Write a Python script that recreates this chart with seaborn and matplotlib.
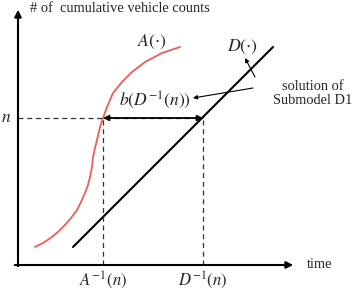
import numpy as np
import pandas as pd
import matplotlib
matplotlib.use("Agg")
import matplotlib.pyplot as plt
import seaborn as sns

# ---------------------------------------------------------
# data (arbitrary units)
# ---------------------------------------------------------
arr_t = [17, 25, 34, 41, 47, 53, 59, 63, 67, 70, 72, 74, 75, 77, 79, 82, 85, 89, 95, 104, 114, 127, 144, 162]
arr_n = [18, 22, 28, 34, 40, 47, 55, 63, 72, 80, 88, 98, 108, 117, 125, 138, 147, 158, 172, 183, 193, 203, 212, 218]
dep_t = [55, 255]
dep_n = [18, 218]

n_level = 147
a_inv = 85
d_inv = 185

sns.set_theme(style="white")
plt.rcParams["font.family"] = ["Liberation Serif", "DejaVu Serif"]
plt.rcParams["mathtext.fontset"] = "stix"

fig = plt.figure(figsize=(3.55, 2.92), dpi=100)
ax = fig.add_axes([0, 0, 1, 1])
ax.set_xlim(-18, 337)
ax.set_ylim(-27, 265)
ax.axis("off")

# curves
arr = pd.DataFrame({"t": arr_t, "n": arr_n})
dep = pd.DataFrame({"t": dep_t, "n": dep_n})
sns.lineplot(data=arr, x="t", y="n", ax=ax, color="#ee5c5c", lw=1.3, sort=False)
sns.lineplot(data=dep, x="t", y="n", ax=ax, color="black", lw=1.5, sort=False)

# dashed guides
dash = dict(color="#333333", lw=0.9, ls=(0, (4, 3)))
ax.plot([0, d_inv], [n_level, n_level], **dash)
ax.plot([a_inv, a_inv], [0, n_level], **dash)
ax.plot([d_inv, d_inv], [0, n_level], **dash)

# axes with arrows
ax.annotate("", xy=(0, 258), xytext=(0, -4),
            arrowprops=dict(arrowstyle="-|>", color="black", lw=1.5, mutation_scale=10))
ax.annotate("", xy=(278, 0), xytext=(-6, 0),
            arrowprops=dict(arrowstyle="-|>", color="black", lw=1.5, mutation_scale=10))

# horizontal double arrow b(D^-1(n))
ax.annotate("", xy=(a_inv, n_level), xytext=(d_inv, n_level),
            arrowprops=dict(arrowstyle="<|-|>", color="black", lw=1.3, mutation_scale=8,
                            shrinkA=0, shrinkB=0))

# pointer arrows from "solution of Submodel D1"
ax.annotate("", xy=(227, 207), xytext=(237, 188),
            arrowprops=dict(arrowstyle="-|>", color="black", lw=0.8, mutation_scale=6,
                            shrinkA=0, shrinkB=0))
ax.annotate("", xy=(175, 167), xytext=(235, 177),
            arrowprops=dict(arrowstyle="-|>", color="black", lw=0.8, mutation_scale=6,
                            shrinkA=0, shrinkB=0))

# texts
ax.text(12, 256, "# of  cumulative vehicle counts", fontsize=10.4, ha="left", va="center")
ax.text(289, 0, "time", fontsize=10.4, ha="left", va="center")
ax.text(-12, n_level, "$n$", fontsize=12.5, ha="center", va="center")
ax.text(a_inv, -15, "$A^{-1}(n)$", fontsize=12, ha="center", va="center")
ax.text(d_inv, -15, "$D^{-1}(n)$", fontsize=12, ha="center", va="center")
ax.text(134, 223, r"$A(\cdot)$", fontsize=12.8, ha="center", va="center")
ax.text(225, 218, r"$D(\cdot)$", fontsize=12.8, ha="center", va="center")
ax.text(137, 165, "$b(D^{-1}(n))$", fontsize=12.6, ha="center", va="center")
ax.text(295, 172, "solution of\nSubmodel D1", fontsize=10.4, ha="center", va="center",
        linespacing=1.1)

fig.savefig("out.png", dpi=100)
